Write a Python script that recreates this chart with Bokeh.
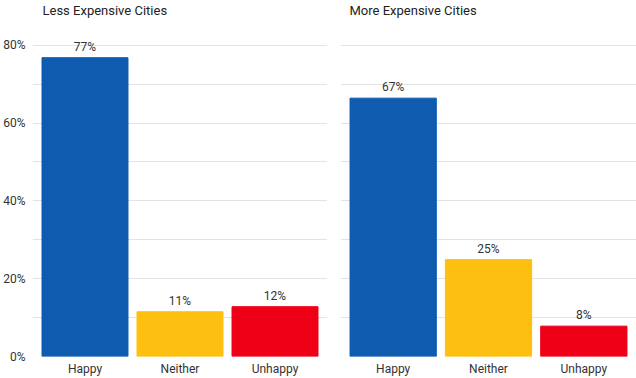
from bokeh.plotting import figure
from bokeh.models import ColumnDataSource, FactorRange, Range1d, FixedTicker, PrintfTickFormatter, Label
from bokeh.layouts import row
from bokeh.embed import file_html
from bokeh.resources import INLINE
from bokeh.core.properties import value

categories = ["Happy", "Neither", "Unhappy"]
colors = ["#0e5bb0", "#fdc010", "#ee0017"]
less_values = [76.8, 11.5, 12.8]
less_labels = ["77%", "11%", "12%"]
more_values = [66.4, 24.9, 7.8]
more_labels = ["67%", "25%", "8%"]
titles = ["Less Expensive Cities", "More Expensive Cities"]
major_ticks = [0, 20, 40, 60, 80]
minor_ticks = [10, 30, 50, 70]

FONT = "Roboto"


def make_panel(title, vals, labels, width, left_border, title_x, show_y):
    src = ColumnDataSource(dict(cat=categories, val=vals, lab=labels, color=colors))
    p = figure(x_range=FactorRange(*categories, range_padding=0.035),
               y_range=Range1d(0, 91.5),
               width=width, height=378, output_backend="svg", toolbar_location=None,
               min_border_left=left_border, min_border_right=0,
               min_border_top=0, min_border_bottom=21)
    p.outline_line_color = None
    p.add_layout(Label(x=title_x, y=354, x_units="screen", y_units="screen",
                       text=title, text_font=FONT, text_font_size="13px",
                       text_color="#222222", text_baseline="top", text_align="left"))
    p.vbar(x="cat", top="val", width=0.905, color="color", source=src)
    p.text(x="cat", y="val", text="lab", source=src, y_offset=-4,
           text_align="center", text_baseline="bottom",
           text_font=value(FONT), text_font_size="12px", text_color="#333333")
    ticker = FixedTicker(ticks=major_ticks, minor_ticks=minor_ticks)
    p.yaxis.ticker = ticker
    p.ygrid.ticker = ticker
    p.ygrid.grid_line_color = "#e3e3e3"
    p.ygrid.minor_grid_line_color = "#e3e3e3"
    p.xgrid.grid_line_color = None
    p.yaxis.formatter = PrintfTickFormatter(format="%d%%")
    for ax in (p.xaxis, p.yaxis):
        ax.axis_line_color = None
        ax.major_tick_line_color = None
        ax.minor_tick_line_color = None
        ax.major_tick_out = 0
        ax.major_tick_in = 0
        ax.minor_tick_out = 0
        ax.minor_tick_in = 0
        ax.major_label_text_font = FONT
        ax.major_label_text_font_size = "12px"
        ax.major_label_text_color = "#333333"
    p.xaxis.major_label_standoff = 5
    p.yaxis.major_label_standoff = 7
    p.yaxis.visible = show_y
    return p


p1 = make_panel(titles[0], less_values, less_labels, 327, 32, 10, True)
p2 = make_panel(titles[1], more_values, more_labels, 309, 13, 9, False)
p = row(p1, p2)
p.spacing = 0

open("out.html", "w").write(file_html(p, INLINE))
